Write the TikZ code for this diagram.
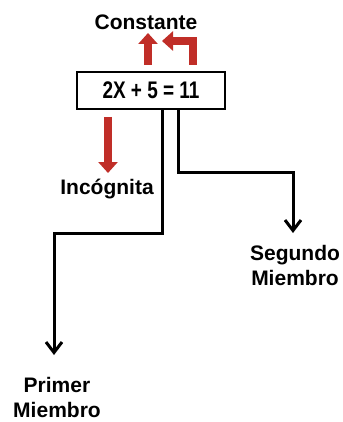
\documentclass[tikz,border=0pt]{standalone}
\usepackage{fontspec}
\setmainfont{Liberation Sans}
\newfontfamily\narrowfont[FakeStretch=0.79]{Liberation Sans}
\usetikzlibrary{arrows.meta}
\definecolor{arrowred}{RGB}{192,46,40}
\tikzset{
  lbl/.style={font=\fontsize{21}{25}\selectfont\bfseries, align=center, inner sep=0pt},
  eqbox/.style={draw, line width=2pt, minimum width=148pt, minimum height=37pt, inner sep=0pt,
    font=\narrowfont\fontsize{24}{28}\selectfont\bfseries},
  blackarr/.style={line width=3pt, -{Straight Barb[length=10.5pt,width=16pt,line width=3pt]}},
  redarr/.style={arrowred, line width=8pt, -{Triangle[length=11pt,width=19pt]}}
}
\begin{document}
\begin{tikzpicture}[x=1pt,y=-1pt]
            \useasboundingbox (0,0) rectangle (342,422);
            \node[eqbox] at (151,90.5) (eq) {2X + 5 = 11};
            \node[lbl] at (146,22) (const) {Constante};
            \node[lbl] at (107,189) (incog) {Incógnita};
            \node[lbl] at (295,265) (seg) {Segundo\\Miembro};
            \node[lbl] at (57,397) (prim) {Primer\\Miembro};

            \draw[blackarr] ([xshift=11pt]eq.south) -- (162,233) -- (54,233) -- (54,355);
            \draw[blackarr] ([xshift=27pt]eq.south) -- (178,172) -- (293,172) -- (293,233);

            \draw[redarr] (108,117) -- (108,173);
            \draw[redarr] (148,65) -- (148,33);
            \draw[redarr] (193,65) -- (193,41) -- (162,41);
        \end{tikzpicture}
\end{document}
